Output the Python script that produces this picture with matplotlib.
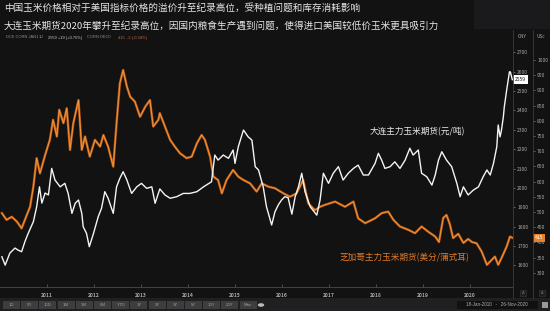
import matplotlib
matplotlib.use("Agg")
from matplotlib import pyplot as plt
from matplotlib.lines import Line2D
from matplotlib.patches import Rectangle

plt.rcParams['font.family'] = ['Noto Sans CJK SC', 'DejaVu Sans']

W, H = 550, 311

title1 = "中国玉米价格相对于美国指标价格的溢价升至纪录高位，受种植问题和库存消耗影响"
title2 = "大连玉米期货2020年攀升至纪录高位，因国内粮食生产遇到问题，使得进口美国较低价玉米更具吸引力"
dce_label = "大连主力玉米期货(元/吨)"
cbot_label = "芝加哥主力玉米期货(美分/蒲式耳)"

years = [2011, 2012, 2013, 2014, 2015, 2016, 2017, 2018, 2019, 2020]
cny_ticks = [1600, 1700, 1800, 1900, 2000, 2100, 2200, 2300, 2400, 2500, 2600, 2700]
usc_ticks = [300, 350, 400, 450, 500, 550, 600, 650, 700, 750, 800, 850, 900, 950, 1000]
buttons = ["1D", "5D", "10D", "1M", "3M", "6M", "YTD", "1Y", "2Y", "3Y", "5Y", "10Y", "20Y", "Max"]

# DCE corn, CNY/t
dce_t = [2010.04, 2010.11, 2010.21, 2010.32, 2010.38, 2010.46, 2010.53, 2010.60, 2010.71, 2010.78,
         2010.84, 2010.89, 2010.96, 2011.03, 2011.10, 2011.17, 2011.28, 2011.38, 2011.45, 2011.53,
         2011.60, 2011.67, 2011.74, 2011.77, 2011.84, 2011.90, 2011.99, 2012.09, 2012.16, 2012.23,
         2012.30, 2012.41, 2012.48, 2012.55, 2012.62, 2012.70, 2012.80, 2012.91, 2013.01, 2013.12,
         2013.23, 2013.30, 2013.40, 2013.51, 2013.62, 2013.76, 2013.90, 2014.04, 2014.19, 2014.33,
         2014.50, 2014.57, 2014.64, 2014.75, 2014.86, 2014.96, 2015.00, 2015.07, 2015.18, 2015.28,
         2015.36, 2015.43, 2015.50, 2015.60, 2015.67, 2015.78, 2015.85, 2015.92, 2015.99, 2016.06,
         2016.13, 2016.21, 2016.28, 2016.35, 2016.42, 2016.49, 2016.60, 2016.74, 2016.81, 2016.88,
         2016.99, 2017.09, 2017.20, 2017.30, 2017.41, 2017.52, 2017.62, 2017.73, 2017.84, 2017.98,
         2018.05, 2018.12, 2018.19, 2018.30, 2018.40, 2018.51, 2018.62, 2018.72, 2018.79, 2018.90,
         2018.97, 2019.08, 2019.19, 2019.26, 2019.33, 2019.40, 2019.50, 2019.61, 2019.72, 2019.79,
         2019.86, 2019.96, 2020.07, 2020.18, 2020.28, 2020.36, 2020.43, 2020.50, 2020.57, 2020.60,
         2020.64, 2020.67, 2020.71, 2020.73, 2020.78, 2020.84, 2020.86, 2020.90]
dce_v = [1645, 1602, 1664, 1690, 1680, 1671, 1723, 1766, 1826, 1903,
         2006, 1922, 1974, 1964, 2101, 2041, 2006, 2024, 1972, 1869,
         1921, 1938, 1869, 1800, 1766, 1697, 1766, 1852, 1895, 1981,
         1947, 1869, 2006, 2050, 2084, 2041, 1972, 2006, 2024, 1998,
         2006, 1921, 1995, 1964, 1947, 1955, 1972, 1972, 1981, 2006,
         2032, 2170, 2144, 2170, 2153, 2196, 2127, 2213, 2299, 2264,
         2247, 2110, 2093, 2006, 1903, 1809, 1877, 1912, 1938, 1955,
         1950, 1865, 1955, 2006, 2076, 1981, 1903, 1860, 1938, 2076,
         2024, 2076, 2110, 2041, 2076, 2101, 2118, 2067, 2067, 2127,
         2179, 2144, 2101, 2110, 2135, 2101, 2144, 2205, 2170, 2196,
         2076, 2058, 2015, 2067, 2144, 2187, 2144, 2110, 2024, 1955,
         2006, 1964, 1989, 2006, 2058, 2093, 2067, 2127, 2213, 2325,
         2264, 2299, 2368, 2419, 2505, 2600, 2598, 2559]

# CBOT corn, US cents/bushel
cbot_t = [2010.04, 2010.14, 2010.25, 2010.36, 2010.46, 2010.53, 2010.64, 2010.71, 2010.78, 2010.85,
          2010.96, 2011.06, 2011.13, 2011.21, 2011.26, 2011.35, 2011.42, 2011.49, 2011.56, 2011.67,
          2011.74, 2011.81, 2011.91, 2012.02, 2012.13, 2012.20, 2012.30, 2012.41, 2012.48, 2012.55,
          2012.62, 2012.70, 2012.77, 2012.87, 2012.98, 2013.09, 2013.19, 2013.26, 2013.37, 2013.40,
          2013.51, 2013.62, 2013.72, 2013.83, 2013.97, 2014.08, 2014.19, 2014.29, 2014.36, 2014.47,
          2014.54, 2014.64, 2014.72, 2014.82, 2014.96, 2015.07, 2015.18, 2015.32, 2015.46, 2015.57,
          2015.71, 2015.85, 2016.03, 2016.17, 2016.31, 2016.45, 2016.56, 2016.70, 2016.81, 2016.91,
          2017.13, 2017.34, 2017.52, 2017.62, 2017.77, 2017.98, 2018.12, 2018.26, 2018.37, 2018.51,
          2018.69, 2018.83, 2018.97, 2019.11, 2019.26, 2019.34, 2019.43, 2019.50, 2019.57, 2019.64,
          2019.75, 2019.86, 2019.96, 2020.04, 2020.14, 2020.25, 2020.36, 2020.46, 2020.53, 2020.60,
          2020.67, 2020.78, 2020.85, 2020.90]
cbot_v = [496, 474, 484, 468, 446, 474, 517, 583, 677, 627,
          687, 737, 803, 748, 836, 792, 841, 704, 792, 868,
          704, 748, 682, 737, 715, 753, 715, 649, 792, 923,
          967, 912, 879, 863, 813, 846, 868, 781, 803, 825,
          781, 737, 715, 693, 677, 682, 726, 753, 737, 682,
          616, 605, 561, 605, 638, 616, 605, 594, 567, 594,
          583, 578, 561, 550, 561, 605, 528, 506, 517, 523,
          534, 517, 534, 479, 463, 479, 496, 501, 474, 452,
          441, 430, 452, 435, 419, 401, 480, 490, 460, 414,
          428, 398, 411, 401, 397, 369, 326, 342, 353, 326,
          348, 386, 419, 415]

BG = '#121213'
PLOT_BG = '#0b0b0c'
GRAY = '#a8a8a8'
ORANGE = '#e8822a'


def box(l, t, r, b):
    # pixel box (top-left origin) -> figure fraction rect
    return [l / W, 1 - b / H, (r - l) / W, (b - t) / H]


def fx(x):
    return x / W


def fy(y):
    return 1 - y / H


fig = plt.figure(figsize=(W / 100, H / 100), dpi=100, facecolor=BG)

# header panel at top right
fig.add_artist(Rectangle((fx(474), fy(29)), fx(76), 29 / H, transform=fig.transFigure,
                         fc='#1a1a1c', ec='none'))
fig.text(fx(4), fy(8), title1, fontsize=6.9, color='#e6e6e6', va='center', ha='left')
fig.text(fx(4), fy(26), title2, fontsize=6.9, color='#e6e6e6', va='center', ha='left')

ax = fig.add_axes(box(0, 32, 513, 287))
ax2 = ax.twinx()
ax2.set_facecolor(PLOT_BG)
ax.set_zorder(ax2.get_zorder() + 1)
ax.patch.set_visible(False)

ax2.plot(cbot_t, cbot_v, color='#b85a18', lw=1.7, solid_joinstyle='round')
ax2.plot(cbot_t, cbot_v, color='#f29438', lw=0.7, solid_joinstyle='round')
ax.plot(dce_t, dce_v, color='#f4f4f4', lw=1.0, solid_joinstyle='round')

ax.set_xlim(2010.0, 2010 + 513 / 47)
ax.set_ylim(1489, 2805)
ax2.set_ylim(253, 1092)

ax.set_xticks(years)
ax.set_xticklabels([str(y) for y in years])
ax.tick_params(axis='x', direction='in', length=2, width=0.5, color='#666666',
               labelsize=3.6, labelcolor=GRAY, pad=4)
for lab in ax.get_xticklabels():
    lab.set_fontweight('bold')

ax.yaxis.tick_right()
ax.set_yticks(cny_ticks)
ax.tick_params(axis='y', direction='out', length=1.5, width=0.5, color='#888888',
               labelsize=3.6, labelcolor=GRAY, pad=1.5)
ax2.set_yticks(usc_ticks)
ax2.tick_params(axis='y', direction='out', length=1.5, width=0.5, color='#888888',
                labelsize=3.6, labelcolor=GRAY, pad=1.5)
ax2.spines['right'].set_position(('outward', 14.4))

for a in (ax, ax2):
    for s in ('top', 'left', 'right'):
        a.spines[s].set_visible(False)
ax2.spines['bottom'].set_visible(False)
ax.spines['bottom'].set_color('#4a4a4a')
ax.spines['bottom'].set_linewidth(0.6)

# right axis rules, drawn a bit longer than the plot
for xr in (513, 533):
    fig.add_artist(Line2D([fx(xr), fx(xr)], [fy(30), fy(298)], transform=fig.transFigure,
                          color='#3c3c3c', lw=0.6))
fig.text(fx(522), fy(37), "CNY", fontsize=3.4, color=GRAY, ha='center', va='center')
fig.text(fx(541), fy(37), "USc", fontsize=3.4, color=GRAY, ha='center', va='center')

# last-price tags
ax.text(1.004, dce_v[-1], str(dce_v[-1]), transform=ax.get_yaxis_transform(),
        fontsize=3.6, color='#111111', ha='left', va='center', clip_on=False,
        bbox=dict(boxstyle='square,pad=0.35', fc='white', ec='none'))
ax2.text(1.042, cbot_v[-1], str(cbot_v[-1]), transform=ax2.get_yaxis_transform(),
         fontsize=3.6, color='white', ha='left', va='center', clip_on=False,
         bbox=dict(boxstyle='square,pad=0.35', fc=ORANGE, ec='none'))

# series labels
ax.text(2017.87, 2289, dce_label, fontsize=6.2, color='#ececec', ha='left', va='center')
ax2.text(2017.23, 349, cbot_label, fontsize=6.2, color='#e07a28', ha='left', va='center')

# quote strip
strip = [(6, "DCE CORN JAN1", '#8c8c8c'), (39, "1D", '#8c8c8c'),
         (48, "2559 +19 (+0.75%)", '#cfcfcf'), (87, "CORN DEC0", '#8c8c8c'),
         (118, "415  -2 (-0.34%)", '#c86a3a')]
for xs, s, c in strip:
    fig.text(fx(xs), fy(37.5), s, fontsize=2.9, color=c, ha='left', va='center',
             family='Liberation Sans')

# bottom toolbar
fig.add_artist(Rectangle((0, 0), 1, 13 / H, transform=fig.transFigure, fc='#202022', ec='none'))
for i, b in enumerate(buttons):
    x0 = 3 + i * 18.2
    fig.add_artist(Rectangle((fx(x0), fy(309)), fx(17), 8 / H, transform=fig.transFigure,
                             fc='#3d3d3f', ec='none'))
    fig.text(fx(x0 + 8.5), fy(305), b, fontsize=3.1, color='#a0a0a0', ha='center', va='center',
             family='Liberation Sans')
fig.add_artist(plt.Circle((fx(261), fy(305)), 3.2 / W, transform=fig.transFigure,
                          fc='#bbbbbb', ec='none'))
fig.add_artist(Rectangle((fx(457), fy(309)), fx(81), 8 / H, transform=fig.transFigure,
                         fc='#111112', ec='none'))
fig.text(fx(497), fy(305), "18-Jan-2010   -   26-Nov-2020", fontsize=3.3, color='#b0b0b0',
         ha='center', va='center', family='Liberation Sans')
fig.add_artist(Rectangle((fx(541.5), fy(308)), fx(6), 6 / H, transform=fig.transFigure,
                         fc='#9a9a9a', ec='none'))
for xa in (523, 542):
    fig.add_artist(Rectangle((fx(xa - 3), fy(296)), fx(6), 6 / H, transform=fig.transFigure,
                             fc='#1e1e20', ec='#3a3a3a', lw=0.4))
    fig.text(fx(xa), fy(293), "A", fontsize=2.8, color='#777777', ha='center', va='center',
             family='Liberation Sans')

fig.savefig("out.png", dpi=100, facecolor=BG)
